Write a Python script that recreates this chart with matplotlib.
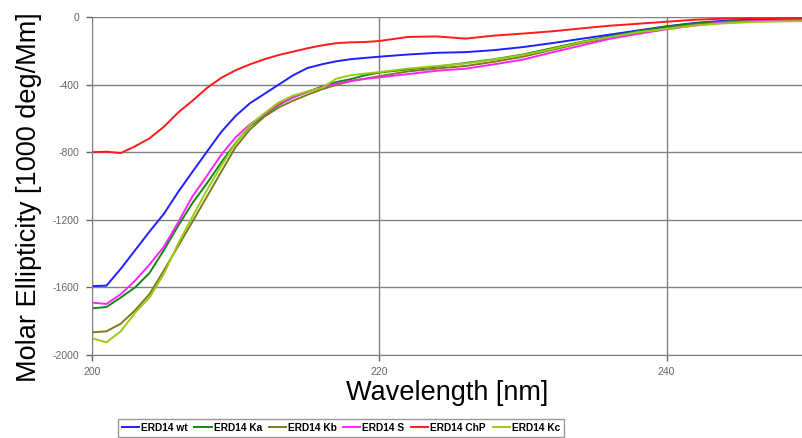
import matplotlib
matplotlib.use("Agg")
import matplotlib.pyplot as plt

plt.rcParams['font.family'] = ['Liberation Sans', 'DejaVu Sans']
plt.rcParams['axes.unicode_minus'] = False

# wavelength grid (nm)
wl = [200, 201, 202, 203, 204, 205, 206, 207, 208, 209, 210, 211, 212, 213, 214,
      215, 216, 217, 218, 219, 220, 222, 224, 226, 228, 230, 232, 234, 236, 238,
      240, 242, 244, 246, 248, 250]

wt = [-1592, -1590, -1490, -1380, -1270, -1165, -1035, -915, -797, -680, -585, -510,
      -455, -400, -345, -302, -280, -262, -250, -242, -235, -222, -212, -208, -196,
      -178, -155, -130, -105, -80, -55, -35, -22, -15, -12, -10]
ka = [-1724, -1716, -1660, -1600, -1515, -1380, -1235, -1100, -984, -860, -745, -645,
      -580, -520, -475, -443, -412, -385, -368, -345, -329, -310, -294, -272, -250,
      -222, -185, -148, -115, -85, -57, -38, -27, -22, -20, -18]
kb = [-1866, -1860, -1815, -1735, -1640, -1500, -1355, -1210, -1063, -915, -770, -665,
      -590, -535, -495, -460, -428, -402, -380, -365, -350, -322, -305, -290, -265,
      -235, -195, -155, -125, -95, -68, -45, -32, -25, -22, -20]
s = [-1690, -1698, -1640, -1560, -1465, -1360, -1215, -1060, -940, -815, -712, -635,
     -575, -515, -476, -442, -415, -395, -378, -366, -357, -338, -318, -306, -280,
     -252, -210, -170, -130, -100, -73, -50, -32, -25, -22, -20]
chp = [-800, -797, -805, -765, -718, -650, -565, -495, -420, -360, -315, -280,
       -250, -225, -205, -185, -168, -155, -150, -148, -142, -118, -115, -128, -110,
       -98, -85, -68, -52, -40, -28, -16, -10, -7, -6, -5]
kc = [-1901, -1925, -1860, -1750, -1660, -1520, -1340, -1180, -1024, -880, -745, -640,
      -570, -505, -465, -440, -420, -365, -345, -335, -326, -305, -290, -275, -252,
      -225, -190, -150, -120, -90, -70, -50, -38, -30, -26, -24]

labels = ['ERD14 wt', 'ERD14 Ka', 'ERD14 Kb', 'ERD14 S', 'ERD14 ChP', 'ERD14 Kc']
colors = ['#1f1fff', '#118811', '#7d7a1e', '#ff22ff', '#ff1a1a', '#99cc11']
series = [wt, ka, kb, s, chp, kc]

fig = plt.figure(figsize=(8.03, 4.38), dpi=100)
ax = fig.add_axes([0.1146, 0.1895, 0.8854, 0.7717])

for y, lab, c in zip(series, labels, colors):
    ax.plot(wl, y, color=c, lw=1.4, label=lab)

ax.set_xlim(200, 249.5)
ax.set_ylim(-2000, 0)
ax.set_xticks([200, 220, 240])
ax.set_yticks([0, -400, -800, -1200, -1600, -2000])
ax.grid(True, color='#808080', lw=1)
ax.set_axisbelow(True)
ax.tick_params(labelsize=7.5, colors='#666666', length=4, width=1, pad=5)
for sp in ['top', 'right']:
    ax.spines[sp].set_visible(False)
for sp in ['left', 'bottom']:
    ax.spines[sp].set_color('#808080')

ax.set_xlabel('Wavelength [nm]', fontsize=19.5, labelpad=2)
ax.set_ylabel('Molar Ellipticity [1000 deg/Mm]', fontsize=19.5)
ax.yaxis.set_label_coords(-0.070, 0.468)

leg = fig.legend(loc='center', bbox_to_anchor=(341 / 803, 1 - 428 / 438), ncol=6,
                 prop={'weight': 'bold', 'size': 7.3}, frameon=True,
                 fancybox=False, handlelength=1.7, handletextpad=0.2, columnspacing=0.65,
                 borderpad=0.4)
leg.get_frame().set_edgecolor('#808080')

fig.savefig('out.png', dpi=100)
